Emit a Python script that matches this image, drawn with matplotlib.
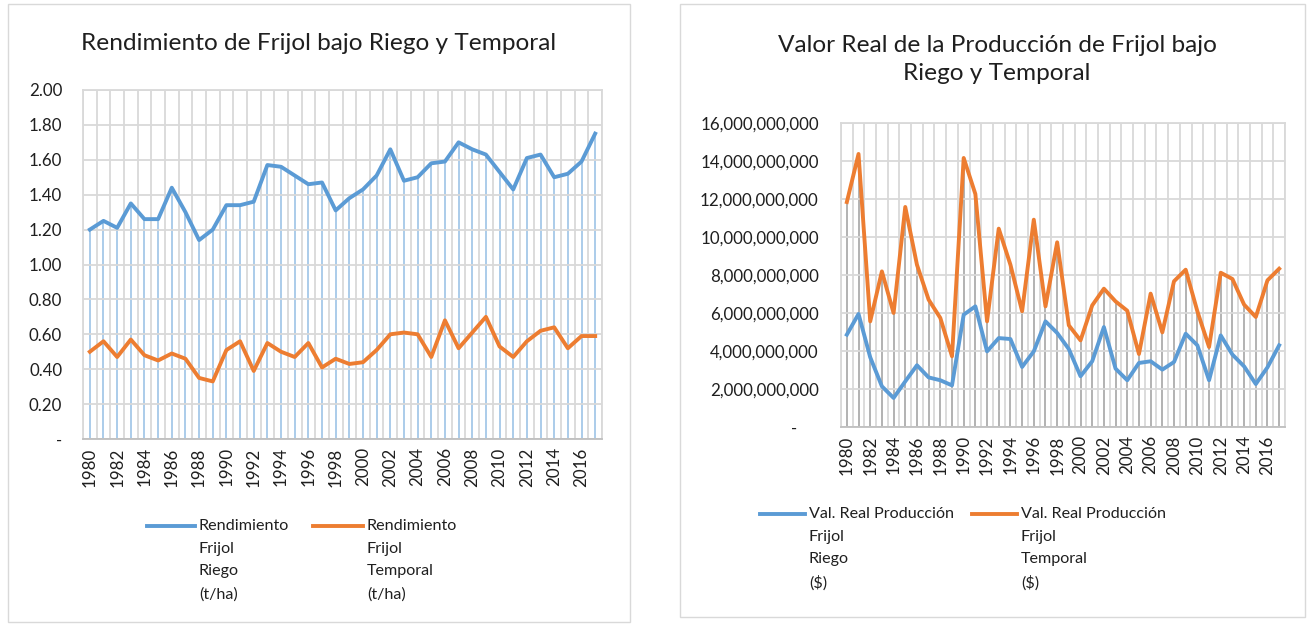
import numpy as np
import matplotlib
matplotlib.use("Agg")
from matplotlib import pyplot as plt
from matplotlib.lines import Line2D
from matplotlib.patches import Rectangle
from matplotlib.ticker import FuncFormatter, MultipleLocator

# ------------------------------------------------
# Data
# ------------------------------------------------
years = list(range(1980, 2018))

rend_riego = [1.20, 1.25, 1.21, 1.35, 1.26, 1.26, 1.44, 1.30, 1.14, 1.20,
              1.34, 1.34, 1.36, 1.57, 1.56, 1.51, 1.46, 1.47, 1.31, 1.38,
              1.43, 1.51, 1.66, 1.48, 1.50, 1.58, 1.59, 1.70, 1.66, 1.63,
              1.53, 1.43, 1.61, 1.63, 1.50, 1.52, 1.59, 1.75]
rend_temporal = [0.50, 0.56, 0.47, 0.57, 0.48, 0.45, 0.49, 0.46, 0.35, 0.33,
                 0.51, 0.56, 0.39, 0.55, 0.50, 0.47, 0.55, 0.41, 0.46, 0.43,
                 0.44, 0.51, 0.60, 0.61, 0.60, 0.47, 0.68, 0.52, 0.61, 0.70,
                 0.53, 0.47, 0.56, 0.62, 0.64, 0.52, 0.59, 0.59]

# valor real de la produccion, miles de millones de pesos
val_riego = [4.86, 5.95, 3.67, 2.14, 1.53, 2.40, 3.25, 2.61, 2.46, 2.19,
             5.91, 6.35, 3.98, 4.68, 4.63, 3.16, 3.98, 5.56, 4.95, 4.10,
             2.67, 3.46, 5.26, 3.07, 2.46, 3.37, 3.46, 3.02, 3.42, 4.91,
             4.30, 2.46, 4.82, 3.81, 3.19, 2.26, 3.14, 4.30]
val_temporal = [11.84, 14.37, 5.56, 8.19, 6.00, 11.58, 8.54, 6.70, 5.74, 3.72,
                14.16, 12.26, 5.56, 10.44, 8.54, 6.09, 10.91, 6.35, 9.72, 5.35,
                4.56, 6.40, 7.28, 6.61, 6.12, 3.84, 7.02, 4.98, 7.67, 8.28,
                6.09, 4.21, 8.12, 7.79, 6.44, 5.79, 7.72, 8.33]

# ------------------------------------------------
# Style
# ------------------------------------------------
plt.rcParams["font.family"] = ["Lato", "DejaVu Sans"]
TXT = "#1f1f1f"
GRID = "#D9D9D9"
BLUE = "#5B9BD5"
ORANGE = "#ED7D31"
FS = 12.2
FS_LEG = 11.6
FS_TITLE = 17.6


def setup_axes(ax, ymax, ystep, fmt, droplines, drop_color):
    x = np.arange(len(years))
    ax.set_xlim(-0.5, len(years) - 0.5)
    ax.set_ylim(0, ymax)
    ax.yaxis.set_major_locator(MultipleLocator(ystep))
    ax.yaxis.set_major_formatter(FuncFormatter(fmt))
    ax.set_xticks(x[::2])
    ax.set_xticklabels([str(y) for y in years[::2]], rotation=90)
    ax.set_xticks(np.arange(-0.5, len(years)), minor=True)
    ax.grid(True, axis="y", which="major", color=GRID, lw=1.3, zorder=0)
    ax.grid(True, axis="x", which="minor", color=GRID, lw=1.3, zorder=0)
    ax.tick_params(axis="both", which="both", length=0, labelsize=FS, colors=TXT)
    ax.tick_params(axis="y", pad=15)
    ax.tick_params(axis="x", pad=6)
    for s in ["left", "right", "top"]:
        ax.spines[s].set_color(GRID)
        ax.spines[s].set_linewidth(1.3)
    ax.spines["bottom"].set_color("#BFBFBF")
    ax.spines["bottom"].set_linewidth(1.3)
    ax.vlines(x, 0, droplines, color=drop_color, lw=1.2, zorder=1)


fig = plt.figure(figsize=(13.15, 6.25), dpi=100)

# chart boxes
fig.add_artist(Rectangle((8 / 1315, 1 - 622 / 625), 622 / 1315, 618 / 625,
                         transform=fig.transFigure, fill=False, ec=GRID, lw=1))
fig.add_artist(Rectangle((680 / 1315, 1 - 617 / 625), 625 / 1315, 613 / 625,
                         transform=fig.transFigure, fill=False, ec=GRID, lw=1))

# ------------------------------------------------
# Left: Rendimiento
# ------------------------------------------------
ax1 = fig.add_axes([83 / 1315, 1 - 439 / 625, 519 / 1315, 349 / 625])
x = np.arange(len(years))
setup_axes(ax1, 2.0, 0.2,
           lambda v, p: "-" if abs(v) < 1e-9 else f"{v:.2f}",
           np.maximum(rend_riego, rend_temporal), "#9DC3E6")
ax1.plot(x, rend_riego, color=BLUE, lw=2.8, zorder=3, solid_joinstyle="round")
ax1.plot(x, rend_temporal, color=ORANGE, lw=2.8, zorder=3, solid_joinstyle="round")
fig.text(319 / 1315, 1 - 44 / 625, "Rendimiento de Frijol bajo Riego y Temporal",
         ha="center", va="center", fontsize=FS_TITLE, color=TXT)

# ------------------------------------------------
# Right: Valor real
# ------------------------------------------------
ax2 = fig.add_axes([841 / 1315, 1 - 427 / 625, 444 / 1315, 304 / 625])
setup_axes(ax2, 16, 2,
           lambda v, p: "-     " if abs(v) < 1e-9 else f"{v * 1e9:,.0f}",
           np.maximum(val_riego, val_temporal), "#A6A6A6")
ax2.tick_params(axis="y", pad=16)
ax2.plot(x, val_riego, color=BLUE, lw=2.8, zorder=3, solid_joinstyle="round")
ax2.plot(x, val_temporal, color=ORANGE, lw=2.8, zorder=3, solid_joinstyle="round")
fig.text(997 / 1315, 1 - 59.5 / 625, "Valor Real de la Producción de Frijol bajo\nRiego y Temporal",
         ha="center", va="center", fontsize=FS_TITLE, color=TXT, linespacing=1.4)

# ------------------------------------------------
# Legends (multi-line entries, Excel style)
# ------------------------------------------------
legend_items = [
    (147, 195, 526, BLUE, "Rendimiento\nFrijol\nRiego\n(t/ha)"),
    (313, 363, 526, ORANGE, "Rendimiento\nFrijol\nTemporal\n(t/ha)"),
    (760, 805, 514, BLUE, "Val. Real Producción\nFrijol\nRiego\n($)"),
    (972, 1017, 514, ORANGE, "Val. Real Producción\nFrijol\nTemporal\n($)"),
]
for x0, x1, yy, col, lab in legend_items:
    fig.add_artist(Line2D([x0 / 1315, x1 / 1315], [1 - yy / 625, 1 - yy / 625],
                          transform=fig.transFigure, color=col, lw=2.8))
    fig.text((x1 + 4) / 1315, 1 - (yy - 7) / 625, lab, ha="left", va="top",
             fontsize=FS_LEG, color=TXT, linespacing=1.78)

fig.savefig("out.png", dpi=100)
